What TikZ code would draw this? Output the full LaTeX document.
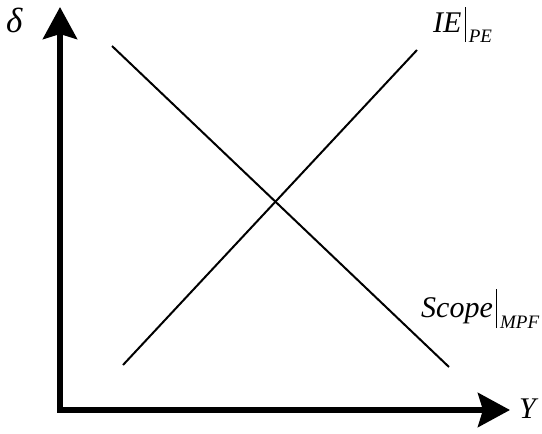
\documentclass[tikz,border=0pt]{standalone}
\usepackage{fontspec}
\setmainfont{Liberation Serif}
\usetikzlibrary{arrows.meta}
\tikzset{
  axisline/.style={line width=6pt, line join=miter, {Stealth[length=32pt,width=34pt,inset=5pt]}-{Stealth[length=32pt,width=34pt,inset=5pt]}},
  curve/.style={line width=2pt},
  lbl/.style={inner sep=0pt, font=\fontsize{30}{30}\selectfont\itshape},
}
\newcommand{\subbar}[3]{\kern3.5pt\rule[-#1]{0.8pt}{#2}\kern3pt\raisebox{-#1}{\fontsize{19}{19}\selectfont #3}}
\begin{document}
\begin{tikzpicture}[x=1pt,y=-1pt]
\useasboundingbox (0,0) rectangle (542,434);
\coordinate (ytop) at (60,7);
\coordinate (orig) at (60,410);
\coordinate (xend) at (510,410);
\draw[axisline] (ytop) -- (orig) -- (xend);
\coordinate (d1) at (112,46);
\coordinate (d2) at (449,367);
\coordinate (a1) at (123,365);
\coordinate (a2) at (417,50);
\draw[curve] (d1) -- (d2);
\draw[curve] (a1) -- (a2);
\node[lbl, anchor=base west, font=\fontsize{35}{35}\selectfont\itshape] (delta) at (6,32) {δ};
\node[lbl, anchor=base west] (ylab) at (519,418) {Y};
\node[lbl, anchor=base west] (ie) at (433,32) {IE\subbar{10pt}{35pt}{PE}};
\node[lbl, anchor=base west] (scope) at (421,317) {Scope\subbar{11pt}{39pt}{MPF}};
\end{tikzpicture}
\end{document}
